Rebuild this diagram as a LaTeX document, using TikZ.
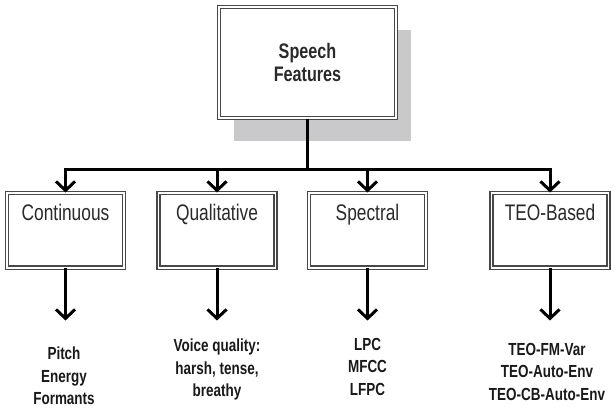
\documentclass[tikz,border=0pt]{standalone}
\usepackage{fontspec}
\usetikzlibrary{arrows.meta,shadows}
\newfontfamily\narrowsans[FakeStretch=0.77]{Liberation Sans}
\definecolor{shadowgray}{HTML}{C9C9CB}
\definecolor{framegray}{HTML}{484848}
\definecolor{labelgray}{HTML}{2A2A2A}

\tikzset{
 dbox/.style={draw=framegray, double=white, double distance=1.8pt, line width=1.4pt, fill=white, inner sep=0pt},
 catbox/.style={dbox, minimum width=117pt, text height=27.8pt, text depth=46.8pt,
   font=\narrowsans\fontsize{22.5}{26}\selectfont, text=labelgray},
 conn/.style={line width=3pt, black},
 arr/.style={conn, -{Straight Barb[length=9pt,width=19pt]}},
 featlist/.style={align=center, font=\narrowsans\bfseries\fontsize{17.5}{22.5}\selectfont, text=black!90}
}

\begin{document}
\begin{tikzpicture}[x=1pt,y=1pt]
 \useasboundingbox (0,0) rectangle (615,409);

 % root
 \node[dbox, minimum width=177pt, minimum height=111pt, align=center,
   drop shadow={shadow xshift=15pt, shadow yshift=-23pt, fill=shadowgray, opacity=1},
   font=\narrowsans\bfseries\fontsize{21}{23.5}\selectfont, text=labelgray]
   (speech) at (307.5,346.5) {Speech\\Features};

 % categories
 \node[catbox] (cont) at (65.5,178.5) {Continuous};
 \node[catbox] (qual) at (217,178.5) {Qualitative};
 \node[catbox] (spec) at (367.5,178.5) {Spectral};
 \node[catbox] (teo) at (550,178.5) {TEO-Based};

 \coordinate (hub) at (307.5,239);
 \draw[conn] (speech.south) -- (hub);
 \draw[arr] (hub) -| (cont.north);
 \draw[arr] (hub) -| (teo.north);
 \draw[arr] (qual.north |- hub) -- (qual.north);
 \draw[arr] (spec.north |- hub) -- (spec.north);

 % feature lists
 \node[featlist] (contlist) at (64,33) {Pitch\\Energy\\Formants};
 \node[featlist] (quallist) at (217,39.5) {Voice quality:\\harsh, tense,\\breathy};
 \node[featlist] (speclist) at (367.5,42.5) {LPC\\MFCC\\LFPC};
 \node[featlist] (teolist) at (547,37.5) {TEO-FM-Var\\TEO-Auto-Env\\TEO-CB-Auto-Env};

 \foreach \cat in {cont,qual,spec,teo}{
   \coordinate (\cat tip) at ([yshift=-52pt]\cat.south);
   \draw[arr] (\cat.south) -- (\cat tip);
 }

\end{tikzpicture}
\end{document}
